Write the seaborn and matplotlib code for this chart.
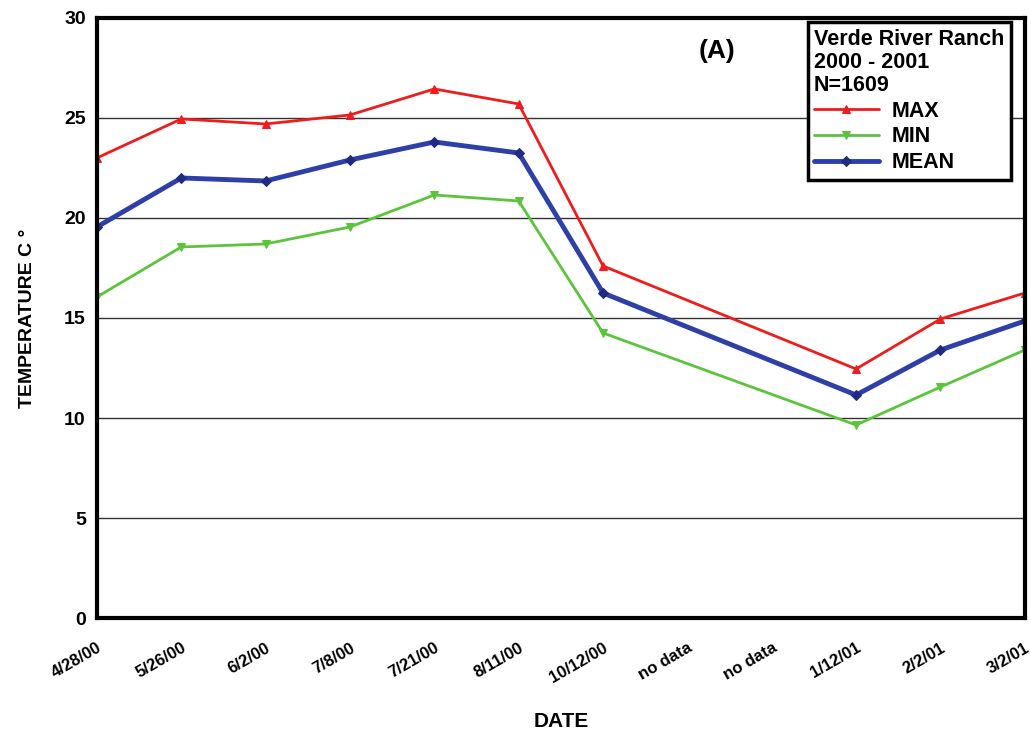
import matplotlib
matplotlib.use("Agg")
import matplotlib.pyplot as plt
import numpy as np
import pandas as pd
import seaborn as sns

# ============================================================================
# DATA
# ============================================================================

dates = ["4/28/00", "5/26/00", "6/2/00", "7/8/00", "7/21/00", "8/11/00",
         "10/12/00", "no data", "no data", "1/12/01", "2/2/01", "3/2/01"]

temp_max = [23.0, 24.95, 24.7, 25.15, 26.45, 25.7, 17.6, np.nan, np.nan, 12.45, 14.95, 16.25]
temp_min = [16.05, 18.55, 18.7, 19.55, 21.15, 20.85, 14.25, np.nan, np.nan, 9.65, 11.55, 13.4]
temp_mean = [19.55, 22.0, 21.85, 22.9, 23.8, 23.25, 16.25, np.nan, np.nan, 11.15, 13.4, 14.85]

series_names = ["MAX", "MIN", "MEAN"]
series_colors = ["#ee1c1c", "#5cc43c", "#2e3fa8"]
series_markers = ["^", "v", "D"]

# ============================================================================
# PLOT
# ============================================================================

sns.set_style("white")
plt.rcParams["font.family"] = ["Liberation Sans", "DejaVu Sans"]
plt.rcParams["font.weight"] = "bold"
plt.rcParams["text.color"] = "black"
plt.rcParams["axes.labelcolor"] = "black"
plt.rcParams["xtick.color"] = "black"
plt.rcParams["ytick.color"] = "black"

df = pd.DataFrame({"pos": np.arange(len(dates)), "MAX": temp_max,
                   "MIN": temp_min, "MEAN": temp_mean})

fig = plt.figure(figsize=(10.31, 7.39), dpi=100)
ax = fig.add_axes([0.094, 0.1637, 0.9, 0.812])

widths = [2.0, 2.0, 3.5]
for name, color, marker, lw in zip(series_names, series_colors, series_markers, widths):
    sub = df[["pos", name]].dropna()
    mcol = color if name != "MEAN" else "#1f2a80"
    sns.lineplot(data=sub, x="pos", y=name, color=color, marker=marker,
                 markersize=5.5, markeredgecolor=mcol, markerfacecolor=mcol,
                 linewidth=lw, label=name, ax=ax)

ax.set_xlim(0, len(dates) - 1)
ax.set_ylim(0, 30)
ax.set_yticks(range(0, 31, 5))
ax.set_xticks(range(len(dates)))
ax.set_xticklabels(dates, rotation=30, ha="right", rotation_mode="anchor",
                   fontsize=12, fontweight="bold")
ax.tick_params(axis="x", direction="in", length=7, width=1, pad=16)
ax.tick_params(axis="y", length=0, labelsize=14, pad=8)
for lab in ax.get_yticklabels():
    lab.set_fontweight("bold")

ax.grid(axis="y", color="#333333", linewidth=1)
ax.grid(axis="x", visible=False)
for side in ["left", "bottom", "right", "top"]:
    ax.spines[side].set_visible(True)
    ax.spines[side].set_color("black")
    ax.spines[side].set_linewidth(3)

ax.set_xlabel("DATE", fontsize=15, fontweight="bold", labelpad=19)
ax.set_ylabel("TEMPERATURE C °", fontsize=14, fontweight="bold", labelpad=20)

ax.text(0.648, 0.965, "(A)", transform=ax.transAxes, fontsize=19,
        fontweight="bold", va="top", ha="left")

leg = ax.legend(title="Verde River Ranch\n2000 - 2001\nN=1609",
                loc="upper right", bbox_to_anchor=(0.985, 0.993),
                fontsize=15.5, title_fontsize=15.5, frameon=True, fancybox=False,
                handlelength=3.0, handletextpad=0.6, labelspacing=0.22,
                borderpad=0.3, borderaxespad=0.0)
leg._legend_box.align = "left"
leg._legend_box.sep = 3
leg.get_title().set_fontweight("bold")
leg.get_title().set_linespacing(1.15)
for t in leg.get_texts():
    t.set_fontweight("bold")
frame = leg.get_frame()
frame.set_edgecolor("black")
frame.set_linewidth(2.5)
frame.set_alpha(1)

plt.savefig("out.png", dpi=100)
